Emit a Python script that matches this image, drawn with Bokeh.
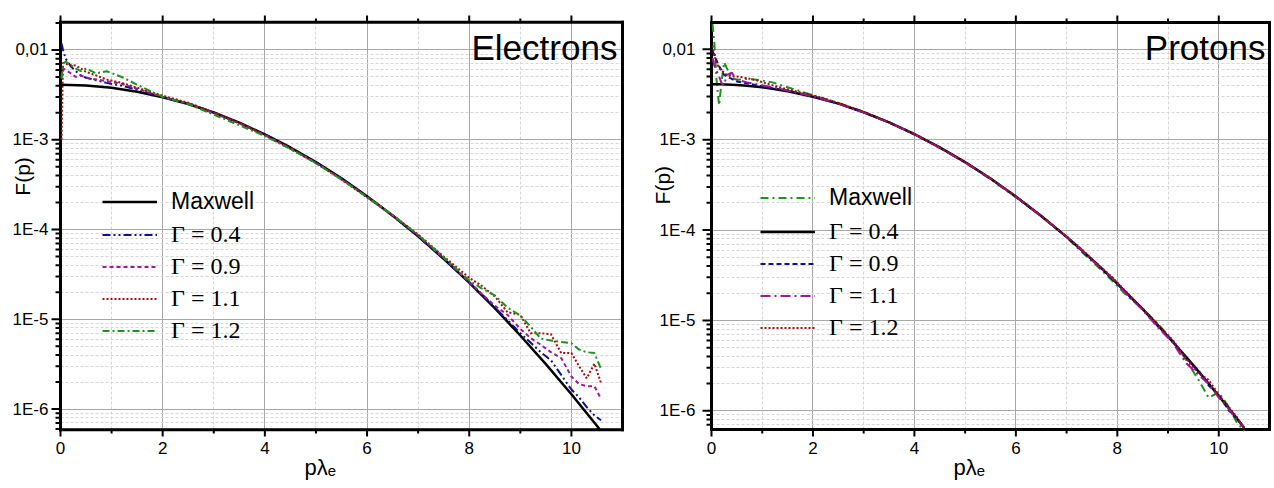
import math
from bokeh.plotting import figure
from bokeh.layouts import row
from bokeh.models import (FixedTicker, Legend, LegendItem, Label,
                          Range1d, CustomJSTickFormatter)
from bokeh.embed import file_html
from bokeh.resources import INLINE

# ---------------- axis ticks / labels ----------------
X_LIM = (0.0, 11.0)
X_TICKS = [0, 2, 4, 6, 8, 10]
X_MINOR = [1, 3, 5, 7, 9]
Y_TICKS = [1e-6, 1e-5, 1e-4, 1e-3, 1e-2]
Y_LABELS = ["1E-6", "1E-5", "1E-4", "1E-3", "0,01"]
Y_MINOR = [m * 10.0 ** e for e in range(-7, -1) for m in range(2, 10)]
Y_LIM_E = (5.9e-7, 0.0203)
Y_LIM_P = (6.2e-7, 0.0198)

# ---------------- Electrons ----------------
p_max_e = [0.0, 0.5, 1.0, 1.5, 2.0, 2.5, 3.0, 3.5, 4.0, 4.5, 5.0, 5.5, 6.0, 6.5,
           7.0, 7.5, 8.0, 8.5, 9.0, 9.5, 10.0, 10.55]
f_max_e = [4.1e-3, 4.02e-3, 3.79e-3, 3.43e-3, 2.98e-3, 2.50e-3, 2.01e-3, 1.55e-3,
           1.15e-3, 8.2e-4, 5.64e-4, 3.72e-4, 2.35e-4, 1.43e-4, 8.4e-5, 4.72e-5,
           2.56e-5, 1.33e-5, 6.6e-6, 3.17e-6, 1.46e-6, 6.0e-7]

p_e = [0.02, 0.05, 0.1, 0.2, 0.3, 0.4, 0.5, 0.7, 0.9, 1.2, 1.5, 2.0,
       2.5, 3.0, 3.5, 4.0, 4.5, 5.0, 5.5, 6.0, 6.5, 7.0, 7.5,
       8.0, 8.25, 8.5, 8.75, 9.0, 9.2, 9.4, 9.6, 9.8, 10.0, 10.15, 10.3, 10.45, 10.58]
f_e_04 = [0.0118, 0.0100, 0.0080, 0.0066, 0.0058, 0.0052, 0.0049, 0.0046, 0.0043, 0.0040, 0.0036, 0.0030,
          2.52e-3, 2.0e-3, 1.53e-3, 1.14e-3, 8.1e-4, 5.6e-4, 3.7e-4, 2.33e-4, 1.42e-4, 8.4e-5, 4.7e-5,
          2.6e-5, 1.9e-5, 1.36e-5, 9.8e-6, 7.0e-6, 5.5e-6, 4.3e-6, 3.5e-6, 2.4e-6, 1.65e-6, 1.35e-6,
          1.05e-6, 8.5e-7, 7.5e-7]
f_e_09 = [0.0050, 0.0062, 0.0060, 0.0055, 0.0050, 0.0052, 0.0049, 0.0047, 0.0045, 0.0042, 0.0037, 0.0030,
          2.55e-3, 1.98e-3, 1.52e-3, 1.13e-3, 8.0e-4, 5.5e-4, 3.65e-4, 2.3e-4, 1.45e-4, 8.6e-5, 4.8e-5,
          2.6e-5, 1.9e-5, 1.42e-5, 1.12e-5, 7.8e-6, 6.2e-6, 5.2e-6, 4.3e-6, 3.7e-6, 2.3e-6, 1.9e-6,
          1.8e-6, 1.8e-6, 1.3e-6]
f_e_11 = [0.0010, 0.0072, 0.0070, 0.0068, 0.0067, 0.0062, 0.0057, 0.0052, 0.0047, 0.0043, 0.0038, 0.0031,
          2.58e-3, 2.02e-3, 1.54e-3, 1.12e-3, 7.9e-4, 5.5e-4, 3.6e-4, 2.28e-4, 1.44e-4, 8.8e-5, 5.0e-5,
          2.9e-5, 2.35e-5, 1.8e-5, 1.2e-5, 1.12e-5, 7.0e-6, 7.0e-6, 6.8e-6, 4.2e-6, 4.2e-6, 3.0e-6,
          2.2e-6, 3.2e-6, 1.95e-6]
f_e_12 = [0.0048, 0.0070, 0.0074, 0.0068, 0.0062, 0.0058, 0.0062, 0.0055, 0.0058, 0.0050, 0.0041, 0.0030,
          2.5e-3, 1.9e-3, 1.45e-3, 1.1e-3, 7.9e-4, 5.5e-4, 3.6e-4, 2.3e-4, 1.45e-4, 8.7e-5, 4.9e-5,
          2.7e-5, 2.2e-5, 1.85e-5, 1.35e-5, 1.1e-5, 8.3e-6, 6.1e-6, 5.8e-6, 5.6e-6, 5.4e-6, 4.6e-6,
          4.3e-6, 4.2e-6, 2.8e-6]

# ---------------- Protons ----------------
p_p = [0.02, 0.06, 0.1, 0.15, 0.2, 0.25, 0.3, 0.4, 0.5, 0.7, 0.9, 1.2, 1.5, 2.0,
       2.5, 3.0, 3.5, 4.0, 4.5, 5.0, 5.5, 6.0, 6.5, 7.0,
       7.3, 7.6, 7.9, 8.2, 8.5, 8.8, 9.1, 9.35, 9.6, 9.8, 10.0, 10.2, 10.35, 10.5]
f_p_max = [0.019, 0.011, 0.0045, 0.0024, 0.0045, 0.0072, 0.0062, 0.0048, 0.0046, 0.0047, 0.0046, 0.0043, 0.0038, 0.0031,
           2.55e-3, 2.03e-3, 1.56e-3, 1.15e-3, 8.1e-4, 5.6e-4, 3.65e-4, 2.3e-4, 1.42e-4, 8.3e-5,
           5.7e-5, 4.0e-5, 2.75e-5, 1.85e-5, 1.35e-5, 9.2e-6, 5.9e-6, 3.7e-6, 2.2e-6, 1.4e-6, 1.6e-6,
           1.1e-6, 7.5e-7, 6.0e-7]
f_p_04 = [4.1e-3, 4.1e-3, 4.1e-3, 4.1e-3, 4.09e-3, 4.08e-3, 4.07e-3, 4.05e-3, 4.02e-3, 3.94e-3, 3.85e-3, 3.66e-3, 3.43e-3, 2.98e-3,
          2.50e-3, 2.01e-3, 1.55e-3, 1.15e-3, 8.2e-4, 5.64e-4, 3.72e-4, 2.35e-4, 1.43e-4, 8.4e-5,
          5.97e-5, 4.19e-5, 2.9e-5, 1.97e-5, 1.33e-5, 8.8e-6, 5.73e-6, 3.98e-6, 2.73e-6, 2.0e-6, 1.46e-6,
          1.06e-6, 8.3e-7, 6.5e-7]
f_p_09 = [0.0095, 0.0085, 0.0075, 0.0065, 0.0058, 0.0052, 0.0050, 0.0047, 0.0044, 0.0042, 0.0040, 0.0037, 0.0035, 0.0030,
          2.52e-3, 2.0e-3, 1.55e-3, 1.14e-3, 8.2e-4, 5.6e-4, 3.7e-4, 2.34e-4, 1.43e-4, 8.4e-5,
          5.9e-5, 4.2e-5, 2.92e-5, 1.95e-5, 1.33e-5, 8.6e-6, 5.8e-6, 3.9e-6, 2.8e-6, 1.9e-6, 1.5e-6,
          1.0e-6, 8.5e-7, 6.4e-7]
f_p_11 = [0.0080, 0.0065, 0.0058, 0.0050, 0.0042, 0.0040, 0.0052, 0.0055, 0.0046, 0.0043, 0.0041, 0.0038, 0.0035, 0.0030,
          2.5e-3, 2.0e-3, 1.54e-3, 1.15e-3, 8.1e-4, 5.6e-4, 3.7e-4, 2.33e-4, 1.42e-4, 8.5e-5,
          6.0e-5, 4.1e-5, 2.95e-5, 1.9e-5, 1.3e-5, 8.4e-6, 5.6e-6, 3.4e-6, 2.5e-6, 2.0e-6, 1.4e-6,
          1.05e-6, 8.0e-7, 6.6e-7]
f_p_12 = [0.011, 0.0085, 0.0070, 0.0062, 0.0058, 0.0055, 0.0052, 0.0050, 0.0050, 0.0048, 0.0045, 0.0040, 0.0036, 0.0031,
          2.55e-3, 2.03e-3, 1.56e-3, 1.16e-3, 8.2e-4, 5.65e-4, 3.72e-4, 2.36e-4, 1.44e-4, 8.5e-5,
          6.1e-5, 4.25e-5, 3.0e-5, 2.0e-5, 1.35e-5, 9.0e-6, 6.0e-6, 3.8e-6, 2.6e-6, 2.2e-6, 1.5e-6,
          1.1e-6, 8.6e-7, 6.4e-7]

NAVY = "#10108a"
PURPLE = "#9a1a9a"
WINE = "#a01010"
GREEN = "#1d931d"
SANS = "Liberation Sans"
SERIF = "Liberation Serif"
NB = "\u00a0"

PAD_L, PAD_R, PAD_T, PAD_B = 10, 4, 8, 8   # pixels of frame outside the plot box (tick room)


def make_fig(width, height, bl, br, bt, bb, box_w, box_h, ylim, ylab, ystand, ylab_off, xlab):
    x0, x1 = X_LIM
    y0, y1 = ylim
    pxu = box_w / (x1 - x0)                                   # pixels per x unit
    dpp = (math.log10(y1) - math.log10(y0)) / box_h            # decades per pixel
    xr = Range1d(x0 - PAD_L / pxu, x1 + PAD_R / pxu)
    yr = Range1d(y0 / 10 ** (PAD_B * dpp), y1 * 10 ** (PAD_T * dpp))

    p = figure(width=width, height=height, y_axis_type="log",
               x_range=xr, y_range=yr,
               output_backend="svg", toolbar_location=None,
               min_border_left=bl, min_border_right=br,
               min_border_top=bt, min_border_bottom=bb)
    p.outline_line_color = None
    p.background_fill_color = "white"
    p.border_fill_color = "white"

    y_minor = [v for v in Y_MINOR if y0 < v < y1]

    # axes: labels only (ticks/frame are drawn as glyphs below)
    xa = p.xaxis[0]
    xa.ticker = FixedTicker(ticks=X_TICKS, minor_ticks=[])
    xa.axis_line_color = None
    xa.major_tick_line_color = None
    xa.minor_tick_line_color = None
    xa.major_tick_in = 0
    xa.major_tick_out = 0
    xa.minor_tick_in = 0
    xa.minor_tick_out = 0
    xa.major_label_text_font = SANS
    xa.major_label_text_font_size = "17px"
    xa.major_label_text_color = "black"
    xa.major_label_standoff = 4
    xa.axis_label = xlab
    xa.axis_label_text_font = SANS
    xa.axis_label_text_font_size = "22px"
    xa.axis_label_text_font_style = "normal"
    xa.axis_label_text_color = "black"
    xa.axis_label_standoff = -2

    ya = p.yaxis[0]
    ya.ticker = FixedTicker(ticks=Y_TICKS, minor_ticks=[])
    ya.formatter = CustomJSTickFormatter(args=dict(tvals=Y_TICKS, labs=Y_LABELS), code="""
        let best = 0, bd = 1e9;
        for (let i = 0; i < tvals.length; i++) {
            const d = Math.abs(Math.log10(tick) - Math.log10(tvals[i]));
            if (d < bd) { bd = d; best = i; }
        }
        return labs[best];
    """)
    ya.axis_line_color = None
    ya.major_tick_line_color = None
    ya.minor_tick_line_color = None
    ya.major_tick_in = 0
    ya.major_tick_out = 0
    ya.minor_tick_in = 0
    ya.minor_tick_out = 0
    ya.major_label_text_font = SANS
    ya.major_label_text_font_size = "17px"
    ya.major_label_text_color = "black"
    ya.major_label_standoff = ylab_off
    ya.axis_label = ylab
    ya.axis_label_text_font = SANS
    ya.axis_label_text_font_size = "21px"
    ya.axis_label_text_font_style = "normal"
    ya.axis_label_text_color = "black"
    ya.axis_label_standoff = ystand

    # grids
    xg = p.xgrid[0]
    yg = p.ygrid[0]
    xg.ticker = FixedTicker(ticks=X_TICKS, minor_ticks=X_MINOR)
    yg.ticker = FixedTicker(ticks=Y_TICKS, minor_ticks=y_minor)
    for g in (xg, yg):
        g.grid_line_color = "#a8a8a8"
        g.grid_line_width = 1
        g.minor_grid_line_color = "#d6d6d6"
        g.minor_grid_line_dash = "3 2"
        g.minor_grid_line_width = 1
    if "cross_bounds" in type(xg).properties():
        xg.cross_bounds = (y0, y1)
        yg.cross_bounds = (x0, x1)

    # tick marks (outside the box)
    def tick_len_y(px):
        return 10 ** (px * dpp)

    p.segment(x0=X_TICKS, x1=X_TICKS, y0=[y0] * len(X_TICKS),
              y1=[y0 / tick_len_y(7)] * len(X_TICKS), line_color="black", line_width=2)
    p.segment(x0=X_MINOR, x1=X_MINOR, y0=[y0] * len(X_MINOR),
              y1=[y0 / tick_len_y(4)] * len(X_MINOR), line_color="black", line_width=2)
    p.segment(x0=X_TICKS, x1=X_TICKS, y0=[y1] * len(X_TICKS),
              y1=[y1 * tick_len_y(7)] * len(X_TICKS), line_color="black", line_width=2)
    p.segment(x0=X_MINOR, x1=X_MINOR, y0=[y1] * len(X_MINOR),
              y1=[y1 * tick_len_y(4)] * len(X_MINOR), line_color="black", line_width=2)
    p.segment(x0=[x0] * len(Y_TICKS), x1=[x0 - 9 / pxu] * len(Y_TICKS),
              y0=Y_TICKS, y1=Y_TICKS, line_color="black", line_width=2)
    p.segment(x0=[x0] * len(y_minor), x1=[x0 - 5 / pxu] * len(y_minor),
              y0=y_minor, y1=y_minor, line_color="black", line_width=2)

    # plot box
    p.segment(x0=[x0, x0, x0, x1], y0=[y0, y1, y0, y0],
              x1=[x1, x1, x0, x1], y1=[y0, y1, y1, y1],
              line_color="black", line_width=3, line_cap="square")
    return p


def style_legend(leg, font, size):
    leg.border_line_color = None
    leg.background_fill_alpha = 0
    leg.padding = 0
    leg.margin = 0
    leg.spacing = 5
    leg.glyph_width = 55
    leg.glyph_height = 27
    leg.label_height = 27
    leg.label_standoff = 14
    leg.label_text_font = font
    leg.label_text_font_size = size
    leg.label_text_color = "black"
    return leg


# ---------------- Left panel ----------------
p1 = make_fig(637, 488, 50, 11, 7, 51, 562, 414, Y_LIM_E,
              NB * 17 + "F(p)", -24, 2, "pλₑ" + NB * 6)
r_m = p1.line(p_max_e, f_max_e, line_color="black", line_width=2.5)
r_a = p1.line(p_e, f_e_04, line_color=NAVY, line_width=2, line_dash="8 3 2 3 2 3")
r_b = p1.line(p_e, f_e_09, line_color=PURPLE, line_width=2, line_dash="4 3")
r_c = p1.line(p_e, f_e_11, line_color=WINE, line_width=2, line_dash="2 2")
r_d = p1.line(p_e, f_e_12, line_color=GREEN, line_width=2, line_dash="7 3 2 3")

l1a = style_legend(Legend(items=[LegendItem(label="Maxwell", renderers=[r_m])],
                          location=(52, 222)), SANS, "23px")
l1b = style_legend(Legend(items=[LegendItem(label="Γ = 0.4", renderers=[r_a]),
                                 LegendItem(label="Γ = 0.9", renderers=[r_b]),
                                 LegendItem(label="Γ = 1.1", renderers=[r_c]),
                                 LegendItem(label="Γ = 1.2", renderers=[r_d])],
                          location=(52, 93)), SERIF, "24px")
p1.add_layout(l1a)
p1.add_layout(l1b)
p1.add_layout(Label(x=10.9, y=0.0107, text="Electrons", text_align="right",
                    text_baseline="middle", text_font=SANS, text_font_size="35px",
                    text_color="black"))

# ---------------- Right panel ----------------
p2 = make_fig(637, 488, 64, 1, 14, 47, 558, 411, Y_LIM_P,
              NB * 14 + "F(p)", -17, 6, "pλₑ" + NB * 6)
s_m = p2.line(p_p, f_p_max, line_color=GREEN, line_width=2, line_dash="8 4 2 4")
s_a = p2.line(p_p, f_p_04, line_color="black", line_width=2.5)
s_b = p2.line(p_p, f_p_09, line_color=NAVY, line_width=2, line_dash="5 3")
s_c = p2.line(p_p, f_p_11, line_color=PURPLE, line_width=2, line_dash="10 4 2 4")
s_d = p2.line(p_p, f_p_12, line_color=WINE, line_width=2, line_dash="2 2")

l2a = style_legend(Legend(items=[LegendItem(label="Maxwell", renderers=[s_m])],
                          location=(59, 226)), SANS, "23px")
l2b = style_legend(Legend(items=[LegendItem(label="Γ = 0.4", renderers=[s_a]),
                                 LegendItem(label="Γ = 0.9", renderers=[s_b]),
                                 LegendItem(label="Γ = 1.1", renderers=[s_c]),
                                 LegendItem(label="Γ = 1.2", renderers=[s_d])],
                          location=(59, 96)), SERIF, "24px")
p2.add_layout(l2a)
p2.add_layout(l2b)
p2.add_layout(Label(x=10.92, y=0.0104, text="Protons", text_align="right",
                    text_baseline="middle", text_font=SANS, text_font_size="35px",
                    text_color="black"))

layout = row(p1, p2)
open("out.html", "w").write(file_html(layout, INLINE))
